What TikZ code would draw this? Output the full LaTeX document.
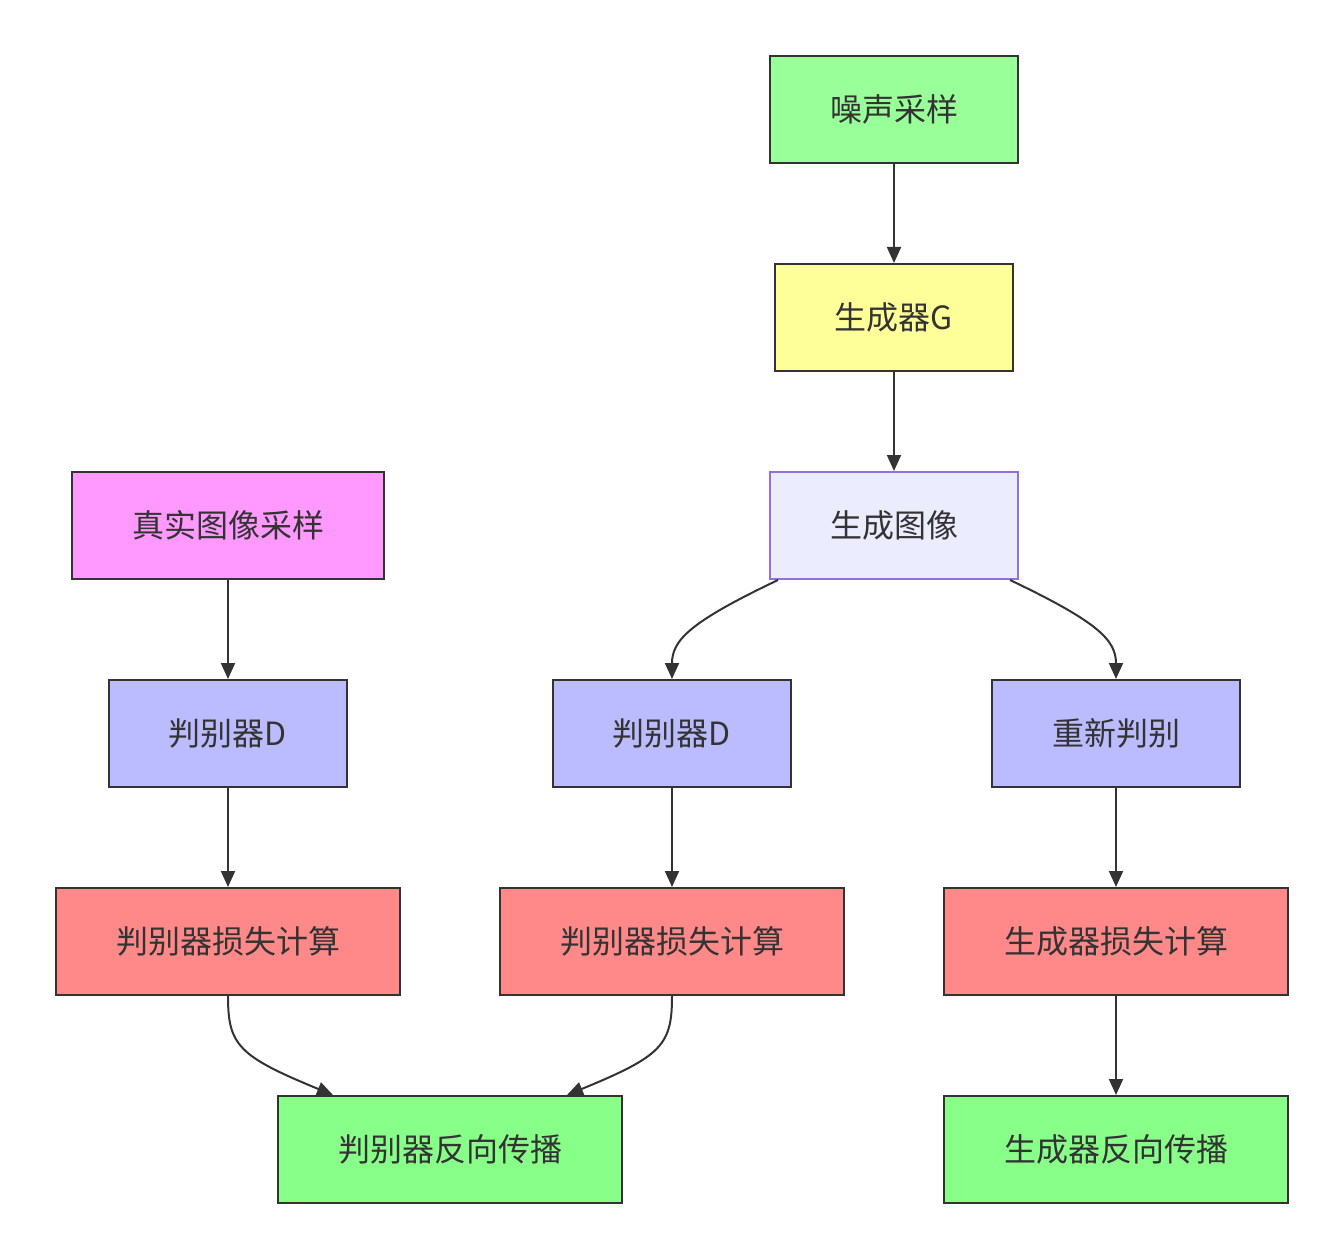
\documentclass[tikz,border=0pt]{standalone}
\usepackage{fontspec}
\setmainfont{Noto Sans CJK SC}
\usetikzlibrary{arrows.meta}
\definecolor{ink}{HTML}{333333}
\definecolor{cGreenA}{HTML}{99FF99}
\definecolor{cYellow}{HTML}{FFFF99}
\definecolor{cLav}{HTML}{ECECFF}
\definecolor{cLavB}{HTML}{9370DB}
\definecolor{cPink}{HTML}{FF99FF}
\definecolor{cBlue}{HTML}{BBBBFF}
\definecolor{cRed}{HTML}{FF8888}
\definecolor{cGreenB}{HTML}{88FF88}
\tikzset{
  box/.style={draw=ink, line width=2pt, minimum height=107pt, inner sep=0pt, text=ink,
    font=\fontsize{32}{38}\selectfont},
  conn/.style={draw=ink, line width=2pt, -{Triangle[length=16pt,width=14pt]}},
}
\begin{document}
\begin{tikzpicture}[x=1pt,y=-1pt]
\useasboundingbox (0,0) rectangle (1344,1260);
\node[box, fill=cGreenA, minimum width=248pt] (noise) at (894,109.5) {噪声采样};
\node[box, fill=cYellow, minimum width=238pt] (gen) at (894,317.5) {生成器G};
\node[box, fill=cLav, draw=cLavB, minimum width=248pt] (fake) at (894,525.5) {生成图像};
\node[box, fill=cPink, minimum width=312pt] (real) at (228,525.5) {真实图像采样};
\node[box, fill=cBlue, minimum width=238pt] (d1) at (228,733.5) {判别器D};
\node[box, fill=cBlue, minimum width=238pt] (d2) at (672,733.5) {判别器D};
\node[box, fill=cBlue, minimum width=248pt] (d3) at (1116,733.5) {重新判别};
\node[box, fill=cRed, minimum width=344pt] (l1) at (228,941.5) {判别器损失计算};
\node[box, fill=cRed, minimum width=344pt] (l2) at (672,941.5) {判别器损失计算};
\node[box, fill=cRed, minimum width=344pt] (l3) at (1116,941.5) {生成器损失计算};
\node[box, fill=cGreenB, minimum width=344pt] (bd) at (450,1149.5) {判别器反向传播};
\node[box, fill=cGreenB, minimum width=344pt] (bg) at (1116,1149.5) {生成器反向传播};

\draw[conn] (noise) -- (gen);
\draw[conn] (gen) -- (fake);
\draw[conn] (real) -- (d1);
\draw[conn] (d1) -- (l1);
\draw[conn] (d2) -- (l2);
\draw[conn] (d3) -- (l3);
\draw[conn] (l3) -- (bg);
\draw[conn] ([xshift=-116pt]fake.south) .. controls (690,622) and (672,640) .. (d2.north);
\draw[conn] ([xshift=116pt]fake.south) .. controls (1098,622) and (1116,640) .. (d3.north);
\draw[conn] (l1.south) .. controls (228,1045) and (238,1056) .. ([xshift=-117pt]bd.north);
\draw[conn] (l2.south) .. controls (672,1045) and (662,1056) .. ([xshift=117pt]bd.north);
\end{tikzpicture}
\end{document}
